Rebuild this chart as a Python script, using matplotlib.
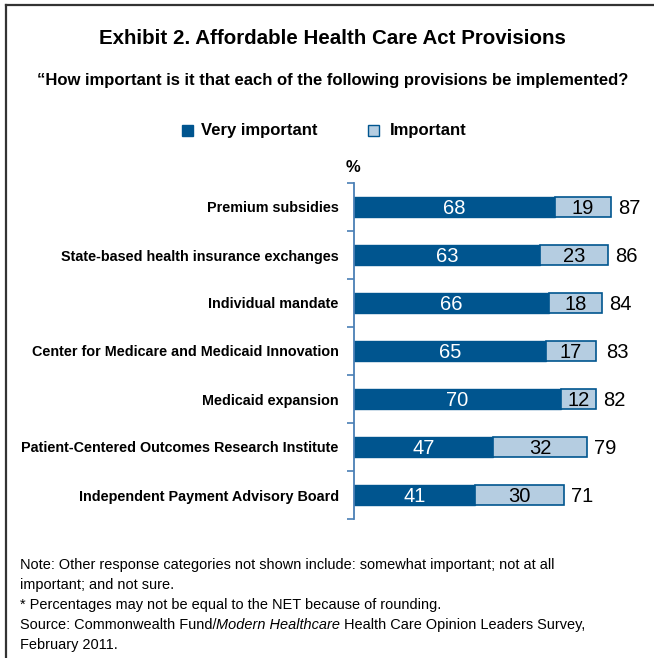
import numpy as np
import matplotlib.pyplot as plt
from matplotlib.patches import Rectangle
from matplotlib.lines import Line2D

provisions = [
    'Premium subsidies',
    'State-based health insurance exchanges',
    'Individual mandate',
    'Center for Medicare and Medicaid Innovation',
    'Medicaid expansion',
    'Patient-Centered Outcomes Research Institute',
    'Independent Payment Advisory Board',
]
very_important = [68, 63, 66, 65, 70, 47, 41]
important = [19, 23, 18, 17, 12, 32, 30]
net_total = [87, 86, 84, 83, 82, 79, 71]

DARK = '#00558f'
LIGHT = '#b5cde1'
plt.rcParams['font.family'] = ['Liberation Sans', 'DejaVu Sans']

W, H = 654, 658
fig = plt.figure(figsize=(W / 100, H / 100), dpi=100)
renderer = fig.canvas.get_renderer()


def fx(px):
    return px / W


def fy(py):
    return 1 - py / H


def fit(t, width_px):
    # no condensed face installed: shrink the text to the reference width
    w = t.get_window_extent(renderer).width
    t.set_fontsize(t.get_fontsize() * width_px / w)
    return t


# frame lines (top and left only, picture is cropped)
fig.add_artist(Line2D([fx(6), 1], [fy(5), fy(5)], color='#333333', lw=1.6))
fig.add_artist(Line2D([fx(6), fx(6)], [fy(5), 0], color='#333333', lw=1.6))

fit(fig.text(fx(332), fy(38), 'Exhibit 2. Affordable Health Care Act Provisions',
             ha='center', va='center', fontsize=18, fontweight='bold'), 467)
fit(fig.text(fx(333), fy(80),
             '\u201cHow important is it that each of the following provisions be implemented?',
             ha='center', va='center', fontsize=13, fontweight='bold'), 592)

# legend
fig.add_artist(Rectangle((fx(182), fy(136)), fx(11), 11 / H, transform=fig.transFigure,
                         facecolor=DARK, edgecolor=DARK, lw=1))
fit(fig.text(fx(201), fy(130), 'Very important', ha='left', va='center',
             fontsize=13, fontweight='bold'), 116)
fig.add_artist(Rectangle((fx(368), fy(136)), fx(11), 11 / H, transform=fig.transFigure,
                         facecolor=LIGHT, edgecolor=DARK, lw=1))
fig.text(fx(390), fy(130), 'Important', ha='left', va='center',
         fontsize=fig.texts[-1].get_fontsize(), fontweight='bold')
fig.text(fx(353), fy(168), '%', ha='center', va='center', fontsize=12, fontweight='bold')

ax = fig.add_axes([fx(354), fy(519), fx(295.4), (519 - 183) / H])
y = np.arange(len(provisions))
ax.barh(y, very_important, height=0.42, color=DARK, edgecolor=DARK, lw=1)
ax.barh(y, important, left=very_important, height=0.42, color=LIGHT,
        edgecolor=DARK, lw=1.2)

for i in range(len(provisions)):
    v, m, t = very_important[i], important[i], net_total[i]
    ax.text(v / 2, i, str(v), ha='center', va='center_baseline', color='white',
            fontsize=14.5)
    ax.text(v + m / 2, i, str(m), ha='center', va='center_baseline', color='black',
            fontsize=14.5)
    ax.text(t + 2.3, i, str(t), ha='left', va='center_baseline', color='black',
            fontsize=14.5)

ax.set_xlim(0, 100)
ax.set_ylim(len(provisions) - 0.5, -0.5)
ax.set_yticks(y)
ax.set_yticklabels(provisions, fontweight='bold')
ax.set_yticks(np.arange(len(provisions) + 1) - 0.5, minor=True)
ax.tick_params(axis='y', which='major', length=0, pad=11)
ax.tick_params(axis='y', which='minor', length=5, color='#4a7fb5', width=1.2)
ax.set_xticks([])
for s in ['top', 'right', 'bottom']:
    ax.spines[s].set_visible(False)
ax.spines['left'].set_color('#4a7fb5')
ax.spines['left'].set_linewidth(1.3)
ax.patch.set_alpha(0)

# size the category labels so the longest one matches the reference
longest = ax.get_yticklabels()[5]
w = longest.get_window_extent(renderer).width
size = longest.get_fontsize() * 319 / w
for lab in ax.get_yticklabels():
    lab.set_fontsize(size)

notes = [
    'Note: Other response categories not shown include: somewhat important; not at all',
    'important; and not sure.',
    '* Percentages may not be equal to the NET because of rounding.',
]
first = fit(fig.text(fx(20), fy(565), notes[0], ha='left', va='center', fontsize=11.5), 533)
fs = first.get_fontsize()
for k, line in enumerate(notes[1:], start=1):
    fig.text(fx(20), fy(565 + k * 20), line, ha='left', va='center', fontsize=fs)
src = fig.text(fx(20), fy(625), 'Source: Commonwealth Fund/', ha='left', va='center',
               fontsize=fs)
x1 = src.get_window_extent(renderer).x1 / W
it = fig.text(x1, fy(625), 'Modern Healthcare', ha='left', va='center', fontsize=fs,
              style='italic')
x2 = it.get_window_extent(renderer).x1 / W
fig.text(x2, fy(625), ' Health Care Opinion Leaders Survey,', ha='left', va='center',
         fontsize=fs)
fig.text(fx(20), fy(645), 'February 2011.', ha='left', va='center', fontsize=fs)

fig.savefig('out.png', dpi=100)
